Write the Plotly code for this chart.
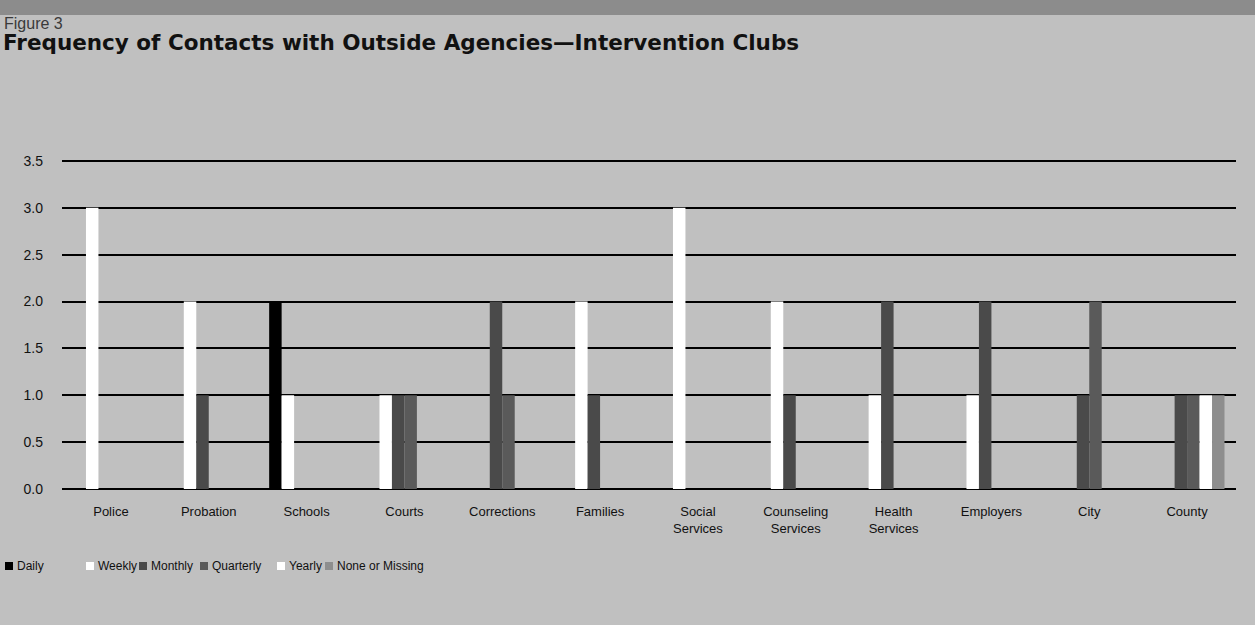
import plotly.graph_objects as go

categories = ["Police", "Probation", "Schools", "Courts", "Corrections", "Families",
              "Social<br>Services", "Counseling<br>Services", "Health<br>Services",
              "Employers", "City", "County"]

daily      = [0, 0, 2, 0, 0, 0, 0, 0, 0, 0, 0, 0]
weekly     = [3, 2, 1, 1, 0, 2, 3, 2, 1, 1, 0, 0]
monthly    = [0, 1, 0, 1, 2, 1, 0, 1, 2, 2, 1, 1]
quarterly  = [0, 0, 0, 1, 1, 0, 0, 0, 0, 0, 2, 1]
yearly     = [0, 0, 0, 0, 0, 0, 0, 0, 0, 0, 0, 1]
none_missing = [0, 0, 0, 0, 0, 0, 0, 0, 0, 0, 0, 1]

series_names = ["Daily", "Weekly", "Monthly", "Quarterly", "Yearly", "None or Missing"]
series_values = [daily, weekly, monthly, quarterly, yearly, none_missing]
series_colors = ["#000000", "#ffffff", "#4a4a4a", "#5a5a5a", "#ffffff", "#8e8e8e"]

ytick_vals = [0, 0.5, 1.0, 1.5, 2.0, 2.5, 3.0, 3.5]
ytick_text = ["0.0", "0.5", "1.0", "1.5", "2.0", "2.5", "3.0", "3.5"]

BG = "#c0c0c0"

fig = go.Figure()
for name, vals, col in zip(series_names, series_values, series_colors):
    fig.add_trace(go.Bar(name=name, x=categories, y=vals, showlegend=False,
                         marker=dict(color=col, line=dict(width=0))))

# plot area: left 62, right 1236, top ~160, bottom 489 (px)
W, H = 1255, 625
L, R, T, B = 62, 19, 159, 136
pw, ph = W - L - R, H - T - B
YMAX = 3.52

def px_x(x):
    return (x - L) / pw

def px_y(y):
    return (H - B - y) / ph

shapes = [dict(type="rect", xref="paper", yref="paper",
               x0=px_x(0), x1=px_x(W), y0=px_y(15), y1=px_y(0),
               fillcolor="#8c8c8c", line=dict(width=0), layer="below")]

annotations = [
    dict(text="Figure 3", xref="paper", yref="paper", x=px_x(2), y=px_y(23),
         xanchor="left", yanchor="middle", showarrow=False,
         font=dict(family="Liberation Sans Narrow, Liberation Sans, sans-serif",
                   size=16, color="#3a3a3a")),
    dict(text="<b>Frequency of Contacts with Outside Agencies\u2014Intervention Clubs</b>",
         xref="paper", yref="paper", x=px_x(1), y=px_y(43),
         xanchor="left", yanchor="middle", showarrow=False,
         font=dict(family="DejaVu Sans, sans-serif", size=21.5, color="#111111")),
]

# compact legend (swatch + label), laid out like the original print
legend_x = [5, 86, 139, 200, 277, 325]
LEG_Y = 566
for name, col, lx in zip(series_names, series_colors, legend_x):
    shapes.append(dict(type="rect", xref="paper", yref="paper",
                       x0=px_x(lx), x1=px_x(lx + 8), y0=px_y(LEG_Y + 4), y1=px_y(LEG_Y - 4),
                       fillcolor=col, line=dict(width=0)))
    annotations.append(dict(text=name, xref="paper", yref="paper",
                            x=px_x(lx + 10), y=px_y(LEG_Y), xanchor="left", yanchor="middle",
                            showarrow=False, font=dict(size=12, color="#111111")))

fig.update_layout(
    width=W, height=H,
    margin=dict(l=L, r=R, t=T, b=B, autoexpand=False),
    paper_bgcolor=BG, plot_bgcolor=BG,
    barmode="group", bargap=0.235, bargroupgap=0,
    font=dict(family="Liberation Sans, Arial, sans-serif", size=13, color="#111111"),
    showlegend=False,
    xaxis=dict(showgrid=False, showline=False, ticks="", ticklabelstandoff=13,
               automargin=False, tickfont=dict(size=13, color="#111111")),
    yaxis=dict(range=[0, YMAX], tickvals=ytick_vals, ticktext=ytick_text,
               showgrid=True, gridcolor="#000000", gridwidth=2,
               zeroline=True, zerolinecolor="#000000", zerolinewidth=2,
               showline=False, ticks="", ticklabelstandoff=18, automargin=False,
               tickfont=dict(size=14, color="#111111")),
    shapes=shapes,
    annotations=annotations,
)

fig.write_html("out.html")
